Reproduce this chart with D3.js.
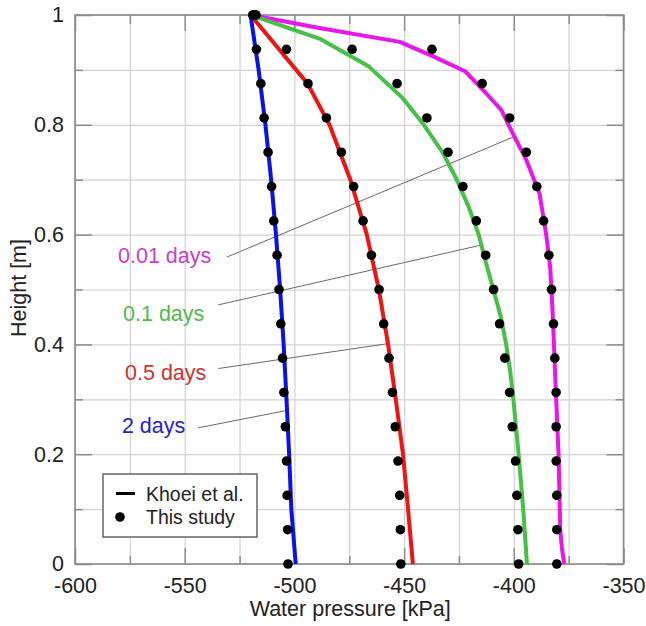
<!DOCTYPE html>
<html>
<head>
    <title>water pressure profiles</title>
    <script src="https://cdn.jsdelivr.net/npm/d3@7"></script>
    <style>
        body { margin: 0; background: #fff; }
        text { font-family: "Liberation Sans", Arial, sans-serif; }
    </style>
</head>
<body>
<script>
    // heights of the "This study" points (m)
    var dotHeights = [1, 0.9375, 0.875, 0.8125, 0.75, 0.6875, 0.625, 0.5625, 0.5,
        0.4375, 0.375, 0.3125, 0.25, 0.1875, 0.125, 0.0625, 0];

    // This study, water pressure (kPa) at dotHeights
    var dots2d = [-519, -517.3, -515.3, -513.8, -512, -510.4, -509.4, -507.9, -507,
        -506.2, -505.4, -504.8, -504.1, -503.6, -503.3, -503.1, -502.9];
    var dots05d = [-518.5, -503.6, -493.8, -485.4, -478.6, -473, -468.7, -464.9, -461.4,
        -459.3, -456.9, -455.3, -454, -452.8, -452, -451.7, -451.5];
    var dots01d = [-518, -473.7, -453.2, -439.6, -430, -423.2, -417.1, -412.8, -409.2,
        -406.5, -404.1, -401.9, -400.7, -399.2, -398.6, -398.1, -397.8];
    var dots001d = [-517.5, -437.3, -414.4, -401.9, -394.3, -389.5, -386.4, -384, -382.8,
        -381.9, -381.3, -380.7, -380.7, -380.7, -380.4, -380.4, -380.4];

    // Khoei et al. curves: heights and pressures
    var line2dH = [1, 0.9, 0.8, 0.7, 0.6, 0.5, 0.4, 0.3, 0.2, 0.1, 0.06, 0];
    var line2dP = [-520, -516.3, -513.2, -510.6, -508.4, -506.5, -504.9, -503.6, -502.4, -501.4, -500.6, -499.4];

    var line05dH = [1, 0.9375, 0.875, 0.8, 0.7, 0.6, 0.5, 0.4, 0.3, 0.2, 0.1, 0];
    var line05dP = [-520, -507, -494, -484, -474.5, -467, -461.5, -457.3, -453.8, -450.5, -448.2, -446];

    var line01dH = [1, 0.956, 0.906, 0.85, 0.8, 0.75, 0.7, 0.65, 0.6, 0.55, 0.5, 0.45, 0.4, 0.35, 0.3, 0.2, 0.1, 0];
    var line01dP = [-520, -488, -466, -451, -441, -432.5, -426, -420.5, -416, -412.8, -409.3, -405.9, -403.5, -401.6, -400.2, -397.8, -395.7, -394];

    var line001dH = [1, 0.976, 0.951, 0.927, 0.897, 0.857, 0.827, 0.784, 0.736, 0.675, 0.602, 0.54, 0.45, 0.33, 0.2, 0.06, 0.03, 0];
    var line001dP = [-520, -488, -452, -438, -422, -412.5, -405.7, -400.4, -394.3, -388.3, -385.3, -383.4, -382.2, -381, -379.6, -378.8, -378.1, -377];

    var seriesNames = ['0.01 days', '0.1 days', '0.5 days', '2 days'];
    var lineColors = ['#e816e8', '#46c046', '#ee1414', '#0a12e8'];
    var labelColors = ['#cc3ccc', '#55b855', '#cc3333', '#2424c8'];

    // label anchor [p, h] and leader line end points [p1, h1, p2, h2]
    var labelPos = [[-580.4, 0.563], [-578.1, 0.457], [-577.2, 0.350], [-578.6, 0.253]];
    var leaders = [[-530.8, 0.559, -400.1, 0.778], [-534.7, 0.472, -414.8, 0.581],
        [-534.7, 0.356, -458.1, 0.401], [-543.9, 0.248, -504.4, 0.279]];

    var xMajor = [-600, -550, -500, -450, -400, -350];
    var xMinor = [-575, -525, -475, -425, -375];
    var yMajor = [0, 0.2, 0.4, 0.6, 0.8, 1];
    var yMinor = [0.1, 0.3, 0.5, 0.7, 0.9];

    var width = 646, height = 626;
    var pLeft = 75, pRight = 623.5, pTop = 15, pBottom = 564;

    var svg = d3.select('body').append('svg')
        .attr('width', width)
        .attr('height', height);

    var x = d3.scaleLinear().domain([-600, -350]).range([pLeft, pRight]);
    var y = d3.scaleLinear().domain([0, 1]).range([pBottom, pTop]);

    // grid
    svg.append('g')
        .attr('transform', 'translate(0,' + pBottom + ')')
        .call(d3.axisBottom(x).tickValues(xMajor.concat(xMinor)).tickSize(-(pBottom - pTop)).tickFormat(''))
        .call(function (g) { g.select('.domain').remove(); })
        .selectAll('line').attr('stroke', '#d2d2d2').attr('stroke-width', 1.2);
    svg.append('g')
        .attr('transform', 'translate(' + pLeft + ',0)')
        .call(d3.axisLeft(y).tickValues(yMajor.concat(yMinor)).tickSize(-(pRight - pLeft)).tickFormat(''))
        .call(function (g) { g.select('.domain').remove(); })
        .selectAll('line').attr('stroke', '#d2d2d2').attr('stroke-width', 1.2);

    // inward tick marks on all four sides
    function ticks(axis, tr, vals, len) {
        svg.append('g')
            .attr('transform', tr)
            .call(axis.tickValues(vals).tickSize(len).tickFormat(''))
            .call(function (g) { g.select('.domain').remove(); })
            .selectAll('line').attr('stroke', '#8c8c8c').attr('stroke-width', 1.5);
    }
    ticks(d3.axisBottom(x), 'translate(0,' + pBottom + ')', xMajor, -16);
    ticks(d3.axisBottom(x), 'translate(0,' + pBottom + ')', xMinor, -8);
    ticks(d3.axisTop(x), 'translate(0,' + pTop + ')', xMajor, -16);
    ticks(d3.axisTop(x), 'translate(0,' + pTop + ')', xMinor, -9);
    ticks(d3.axisLeft(y), 'translate(' + pLeft + ',0)', yMajor, -17);
    ticks(d3.axisLeft(y), 'translate(' + pLeft + ',0)', yMinor, -8);
    ticks(d3.axisRight(y), 'translate(' + pRight + ',0)', yMajor, -17);
    ticks(d3.axisRight(y), 'translate(' + pRight + ',0)', yMinor, -8);

    svg.append('rect')
        .attr('x', pLeft).attr('y', pTop)
        .attr('width', pRight - pLeft).attr('height', pBottom - pTop)
        .attr('fill', 'none').attr('stroke', '#8a8a8a').attr('stroke-width', 1.6);

    // tick labels
    var xAx = svg.append('g')
        .attr('transform', 'translate(0,' + pBottom + ')')
        .call(d3.axisBottom(x).tickValues(xMajor).tickSize(0).tickPadding(14).tickFormat(function (d) { return String(d); }));
    xAx.select('.domain').remove();
    xAx.selectAll('text').attr('font-size', 21.5).attr('fill', '#222')
        .style('font-family', '"Liberation Sans", Arial, sans-serif');

    var yAx = svg.append('g')
        .attr('transform', 'translate(' + pLeft + ',0)')
        .call(d3.axisLeft(y).tickValues(yMajor).tickSize(0).tickPadding(11).tickFormat(function (d) { return String(d); }));
    yAx.select('.domain').remove();
    yAx.selectAll('text').attr('font-size', 21.5).attr('fill', '#222')
        .style('font-family', '"Liberation Sans", Arial, sans-serif');

    // axis titles
    svg.append('text')
        .attr('x', (pLeft + pRight) / 2 + 1).attr('y', 616)
        .attr('text-anchor', 'middle').attr('font-size', 21.5).attr('fill', '#222')
        .text('Water pressure [kPa]');
    svg.append('text')
        .attr('transform', 'translate(26,288) rotate(-90)')
        .attr('text-anchor', 'middle').attr('font-size', 21.5).attr('fill', '#222')
        .text('Height [m]');

    // leader lines and labels
    svg.selectAll('.leader').data(leaders).enter().append('line')
        .attr('x1', function (d) { return x(d[0]); })
        .attr('y1', function (d) { return y(d[1]); })
        .attr('x2', function (d) { return x(d[2]); })
        .attr('y2', function (d) { return y(d[3]); })
        .attr('stroke', '#6a6a6a').attr('stroke-width', 1);

    svg.selectAll('.lab').data(labelPos).enter().append('text')
        .attr('x', function (d) { return x(d[0]); })
        .attr('y', function (d) { return y(d[1]); })
        .attr('dy', '0.36em')
        .attr('font-size', 21.5)
        .attr('fill', function (d, i) { return labelColors[i]; })
        .text(function (d, i) { return seriesNames[i]; });

    // Khoei et al. lines
    var lines = [[line001dP, line001dH], [line01dP, line01dH], [line05dP, line05dH], [line2dP, line2dH]];
    var lineGen = d3.line()
        .x(function (d) { return x(d[0]); })
        .y(function (d) { return y(d[1]); });

    lines.forEach(function (s, i) {
        var pts = s[0].map(function (p, j) { return [p, s[1][j]]; });
        svg.append('path')
            .attr('d', lineGen(pts))
            .attr('fill', 'none')
            .attr('stroke', lineColors[i])
            .attr('stroke-width', 4)
            .attr('stroke-linejoin', 'round');
    });

    // This study points
    var dotSets = [dots001d, dots01d, dots05d, dots2d];
    dotSets.forEach(function (vals) {
        svg.append('g').selectAll('circle').data(vals).enter().append('circle')
            .attr('cx', function (d) { return x(d); })
            .attr('cy', function (d, j) { return y(dotHeights[j]); })
            .attr('r', 4.8)
            .attr('fill', '#000');
    });

    // legend
    var lg = svg.append('g').attr('transform', 'translate(103,474)');
    lg.append('rect').attr('width', 154).attr('height', 63)
        .attr('fill', '#fff').attr('stroke', '#666').attr('stroke-width', 1.5);
    lg.append('line').attr('x1', 13).attr('x2', 32).attr('y1', 19.5).attr('y2', 19.5)
        .attr('stroke', '#000').attr('stroke-width', 3);
    lg.append('circle').attr('cx', 17).attr('cy', 43).attr('r', 4.8).attr('fill', '#000');
    lg.append('text').attr('x', 43).attr('y', 20).attr('dy', '0.36em')
        .attr('font-size', 19.5).attr('fill', '#222').text('Khoei et al.');
    lg.append('text').attr('x', 43).attr('y', 43).attr('dy', '0.36em')
        .attr('font-size', 19.5).attr('fill', '#222').text('This study');
</script>
</body>
</html>
